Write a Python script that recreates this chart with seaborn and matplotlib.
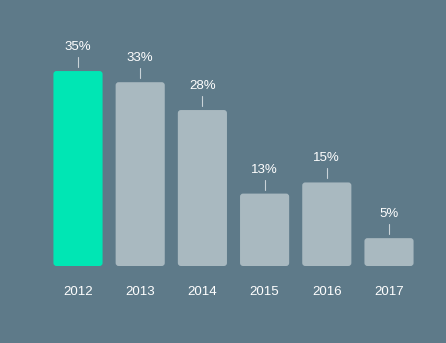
import matplotlib
matplotlib.use("Agg")
import matplotlib.pyplot as plt
import seaborn as sns
import pandas as pd
from matplotlib.patches import FancyBboxPatch

years = ["2012", "2013", "2014", "2015", "2016", "2017"]
values = [35, 33, 28, 13, 15, 5]
labels = ["35%", "33%", "28%", "13%", "15%", "5%"]

bg = "#5e7a89"
green = "#00e6b4"
grey = "#a9b9c0"

sns.set_theme(style="white")
plt.rcParams['font.family'] = ['Liberation Sans', 'DejaVu Sans']

fig = plt.figure(figsize=(4.46, 3.43), dpi=100, facecolor=bg)
ax = fig.add_axes([0, 0, 1, 1])
ax.set_facecolor(bg)

df = pd.DataFrame({"year": years, "value": values})
palette = [green] + [grey] * (len(years) - 1)
sns.barplot(data=df, x="year", y="value", hue="year", palette=palette,
            legend=False, width=0.79, ax=ax, saturation=1)

step = 62.2
x0 = 78
ax.set_xlim(-x0 / step, (446 - x0) / step)
ppu = 5.57
ax.set_ylim(-(343 - 266) / ppu, 266 / ppu)

# rounded corners
xr = 3 / step
yr = 3 / ppu
for p in list(ax.patches):
    x, y = p.get_x(), p.get_y()
    w, h = p.get_width(), p.get_height()
    fc = p.get_facecolor()
    p.remove()
    fb = FancyBboxPatch((x + xr, y + yr), w - 2 * xr, h - 2 * yr,
                        boxstyle=f"round,pad={xr},rounding_size={xr}",
                        mutation_aspect=yr / xr, facecolor=fc, edgecolor="none")
    ax.add_patch(fb)

for i, (v, lab) in enumerate(zip(values, labels)):
    ax.plot([i, i], [v + 4 / ppu, v + 14 / ppu], color="#c9d3d8", lw=0.8)
    ax.text(i, v + 24 / ppu, lab, ha="center", va="center", color="white", fontsize=9.5)
    ax.text(i, -26 / ppu, years[i], ha="center", va="center", color="white", fontsize=9.5)

ax.set_xticks([])
ax.set_yticks([])
ax.set_xlabel("")
ax.set_ylabel("")
for s in ax.spines.values():
    s.set_visible(False)

fig.savefig("out.png", dpi=100, facecolor=bg)
